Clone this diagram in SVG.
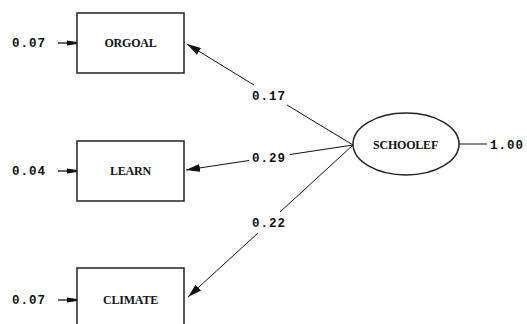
<svg xmlns="http://www.w3.org/2000/svg" width="527" height="324" viewBox="0 0 527 324">
  <style>
    .box { fill: #fff; stroke: #222; stroke-width: 1.5; }
    .edge { fill: none; stroke: #111; stroke-width: 1; }
    .err { fill: none; stroke: #111; stroke-width: 1.3; }
    .name { font-family: "Liberation Serif", "Times New Roman", serif; font-weight: bold; font-size: 12px; fill: #111; text-anchor: middle; letter-spacing: -0.2px; }
    .num { font-family: "Liberation Mono", "Courier New", monospace; font-weight: bold; font-size: 12.5px; fill: #111; letter-spacing: 1px; }
  </style>
  <defs>
    <marker id="head" viewBox="0 0 14 8" refX="14" refY="4" markerWidth="14" markerHeight="8" markerUnits="userSpaceOnUse" orient="auto">
      <path d="M0,0 L14,4 L0,8 Z" fill="#111"/>
    </marker>
    <marker id="errhead" viewBox="0 0 10 6" refX="10" refY="3" markerWidth="10" markerHeight="6" markerUnits="userSpaceOnUse" orient="auto">
      <path d="M0,0.5 L10,2 L10,4 L0,5.5 Z" fill="#111"/>
    </marker>
  </defs>

  <g id="connectors">
    <!-- SCHOOLEF -> ORGOAL -->
    <path class="edge" d="M353,145 L287,105"/>
    <path class="edge" d="M254,85 L187,44" marker-end="url(#head)"/>
    <text class="num" x="252" y="100">0.17</text>
    <!-- SCHOOLEF -> LEARN -->
    <path class="edge" d="M353,145 L290,154.5"/>
    <path class="edge" d="M249,160.5 L186,170" marker-end="url(#head)"/>
    <text class="num" x="252" y="162">0.29</text>
    <!-- SCHOOLEF -> CLIMATE -->
    <path class="edge" d="M353,145 L280,212"/>
    <path class="edge" d="M258,233 L188,297" marker-end="url(#head)"/>
    <text class="num" x="252" y="227">0.22</text>
    <!-- error terms -->
    <path class="err" d="M58,43 L77,43" marker-end="url(#errhead)"/>
    <path class="err" d="M58,171 L77,171" marker-end="url(#errhead)"/>
    <path class="err" d="M58,300 L77,300" marker-end="url(#errhead)"/>
    <!-- latent variance -->
    <path class="edge" d="M459,144 L487,144"/>
  </g>

  <g id="orgoal">
    <rect class="box" x="77" y="13" width="107" height="60"/>
    <text class="name" x="130.5" y="47">ORGOAL</text>
    <text class="num" x="12" y="47">0.07</text>
  </g>

  <g id="learn">
    <rect class="box" x="77" y="141" width="107" height="60"/>
    <text class="name" x="130.5" y="175">LEARN</text>
    <text class="num" x="12" y="175">0.04</text>
  </g>

  <g id="climate">
    <rect class="box" x="77" y="268" width="107" height="60"/>
    <text class="name" x="130.5" y="304">CLIMATE</text>
    <text class="num" x="12" y="304">0.07</text>
  </g>

  <g id="schoolef">
    <ellipse class="box" cx="406" cy="144" rx="53" ry="31"/>
    <text class="name" x="405.5" y="149">SCHOOLEF</text>
    <text class="num" x="490" y="149">1.00</text>
  </g>
</svg>
